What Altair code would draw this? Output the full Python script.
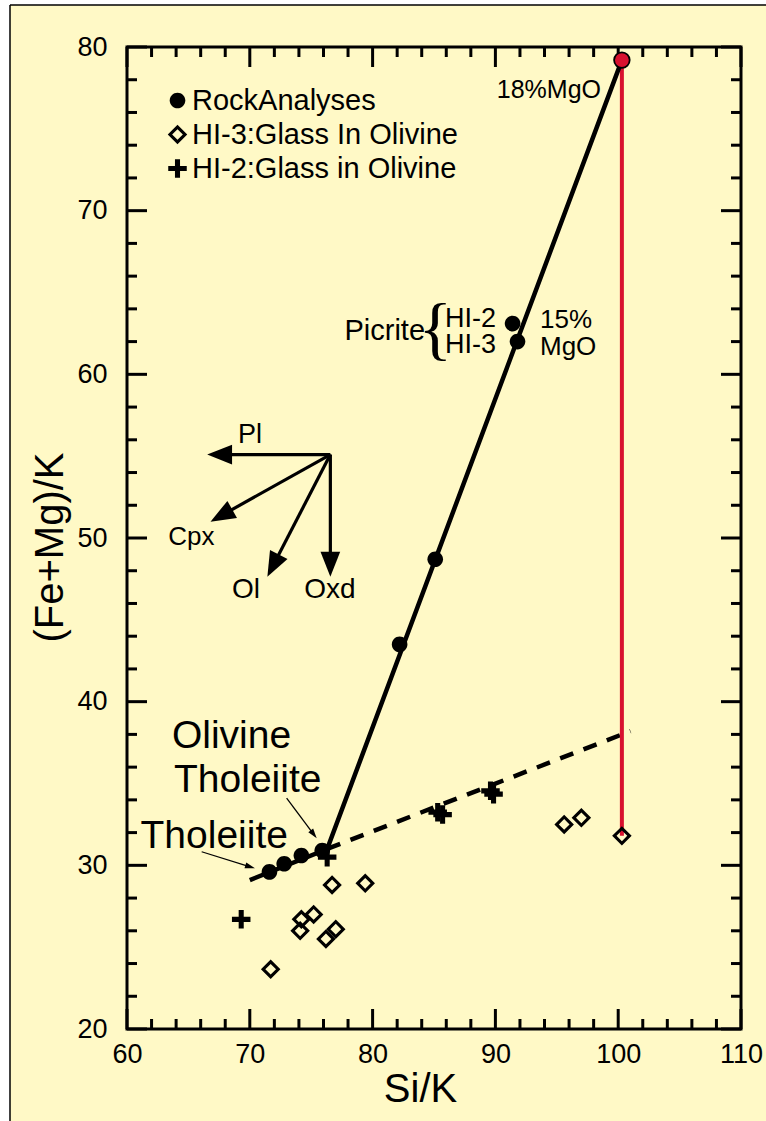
import math
import altair as alt
import pandas as pd

# Si/K against (Fe+Mg)/K for each sample group
rock_si = [71.6, 72.8, 74.2, 75.9, 82.2, 85.1, 91.4, 91.8]
rock_fm = [29.6, 30.1, 30.6, 30.9, 43.5, 48.7, 63.1, 62.0]
mgo18_si = [100.3]
mgo18_fm = [79.2]
hi3_si = [71.7, 74.1, 74.2, 75.2, 76.2, 76.7, 77.0, 79.4, 95.6, 97.0, 100.3]
hi3_fm = [23.65, 26.0, 26.7, 27.0, 25.5, 28.8, 26.1, 28.9, 32.5, 32.9, 31.8]
hi2_si = [69.3, 76.3, 85.3, 85.7, 89.6, 89.85]
hi2_fm = [26.7, 30.5, 33.25, 33.1, 34.55, 34.35]

series_names = ["RockAnalyses", "HI-3:Glass In Olivine", "HI-2:Glass in Olivine"]

# Trend lines
rock_trend_si = [70.0, 76.3, 100.3]
rock_trend_fm = [29.1, 31.0, 79.2]
glass_trend_si = [76.3, 101.0]
glass_trend_fm = [31.0, 38.2]
mgo_link_si = [100.3]
mgo_link_top = [79.2]
mgo_link_bottom = [31.8]

# Mineral-addition vectors
vector_names = ["Pl", "Cpx", "Ol", "Oxd"]
vector_origin_si = 76.56
vector_origin_fm = 55.1
vector_tip_si = [66.53, 66.8, 71.43, 76.56]
vector_tip_fm = [55.1, 51.0, 47.64, 47.64]

# Pointer arrows for the rock-type labels
pointer_from_si = [66.08, 73.0]
pointer_from_fm = [30.83, 34.1]
pointer_to_si = [70.42, 75.45]
pointer_to_fm = [29.82, 31.65]

# Axis ticks
x_major = [60, 70, 80, 90, 100, 110]
x_minor = [v for v in range(62, 110, 2) if v % 10]
y_major = [20, 30, 40, 50, 60, 70, 80]
y_minor = [v for v in range(22, 80, 2) if v % 10]

# ---------------------------------------------------------------- layout
W, H = 614, 982
X_DOM, Y_DOM = [60, 110], [20, 80]
PX_X = W / (X_DOM[1] - X_DOM[0])
PX_Y = H / (Y_DOM[1] - Y_DOM[0])
FONT = "Liberation Sans"
BG = "#FFF9C6"
RED = "#D8112F"

xs = alt.Scale(domain=X_DOM, nice=False, zero=False)
ys = alt.Scale(domain=Y_DOM, nice=False, zero=False)

x_axis = alt.Axis(values=x_major, ticks=False, domain=False, grid=False, labelFlush=False,
                  labelFontSize=27, labelFont=FONT, labelColor="black", labelPadding=12,
                  title="Si/K", titleFont=FONT, titleFontSize=40, titleFontWeight="normal",
                  titleColor="black", titleX=293, titleY=72, titleBaseline="alphabetic",
                  titleAlign="center", zindex=1)
y_axis = alt.Axis(values=y_major, ticks=False, domain=False, grid=False, labelFlush=False,
                  labelFontSize=27, labelFont=FONT, labelColor="black", labelPadding=20,
                  title="(Fe+Mg)/K", titleFont=FONT, titleFontSize=40,
                  titleFontWeight="normal", titleColor="black", titleX=-65, titleY=500,
                  titleBaseline="alphabetic", titleAlign="center", titleAngle=270, zindex=1)

CIRCLE = "M-0.8,0A0.8,0.8 0 1,0 0.8,0A0.8,0.8 0 1,0 -0.8,0Z"
DIAMOND = "M0,-1L1,0L0,1L-1,0ZM0,-0.55L-0.55,0L0,0.55L0.55,0Z"
PLUS = "M-0.95,-0.26H-0.26V-0.95H0.26V-0.26H0.95V0.26H0.26V0.95H-0.26V0.26H-0.95Z"
HEAD = "M0,0L-2.4,-0.95L-2.4,0.95Z"
THIN_HEAD = "M0,0L-2.5,-0.75L-2.5,0.75Z"
PT_SIZE = 380


# shared scales; only the sample layer carries the labelled axes
def X(field, axis=None):
    return alt.X(field, type="quantitative", scale=xs, axis=axis)


def Y(field, axis=None):
    return alt.Y(field, type="quantitative", scale=ys, axis=axis)


one = pd.DataFrame({"k": [0]})

# white page margin on the left and top edges, with the thin page border
margin_left = alt.Chart(one).mark_rect(color="white").encode(
    x=alt.value(-130), x2=alt.value(-117), y=alt.value(-50), y2=alt.value(H + 100))
margin_top = alt.Chart(one).mark_rect(color="white").encode(
    x=alt.value(-130), x2=alt.value(W + 40), y=alt.value(-50), y2=alt.value(-42))
border_left = alt.Chart(one).mark_rule(color="black", strokeWidth=1.5).encode(
    x=alt.value(-117), y=alt.value(-42), y2=alt.value(H + 100))
border_top = alt.Chart(one).mark_rule(color="black", strokeWidth=1.5).encode(
    y=alt.value(-42), x=alt.value(-117), x2=alt.value(W + 40))

frame = alt.Chart(one).mark_rect(fillOpacity=0, stroke="black", strokeWidth=3).encode(
    x=alt.value(0), x2=alt.value(W), y=alt.value(0), y2=alt.value(H)
)


# inward ticks on all four sides of the frame
def tick_layers(values, length):
    d = pd.DataFrame({"v": values})
    rule = alt.Chart(d).mark_rule(color="black", strokeWidth=3)
    return [
        rule.encode(x=X("v"), y=alt.value(H), y2=alt.value(H - length)),
        rule.encode(x=X("v"), y=alt.value(0), y2=alt.value(length)),
    ]


def ytick_layers(values, length):
    d = pd.DataFrame({"v": values})
    rule = alt.Chart(d).mark_rule(color="black", strokeWidth=3)
    return [
        rule.encode(y=Y("v"), x=alt.value(0), x2=alt.value(length)),
        rule.encode(y=Y("v"), x=alt.value(W), x2=alt.value(W - length)),
    ]


ticks = (tick_layers(x_major, 20) + tick_layers(x_minor, 10)
         + ytick_layers(y_major, 20) + ytick_layers(y_minor, 10))

# trend lines
rock_trend = alt.Chart(pd.DataFrame({"si": rock_trend_si, "fm": rock_trend_fm,
                                     "o": range(len(rock_trend_si))})).mark_line(
    color="black", strokeWidth=4.5, strokeJoin="miter").encode(x=X("si"), y=Y("fm"), order="o:Q")

glass_trend = alt.Chart(pd.DataFrame({"si": glass_trend_si, "fm": glass_trend_fm})).mark_line(
    color="black", strokeWidth=4.5, strokeDash=[14, 11]).encode(x=X("si"), y=Y("fm"))

mgo_link = alt.Chart(pd.DataFrame({"si": mgo_link_si, "top": mgo_link_top,
                                   "bot": mgo_link_bottom})).mark_rule(
    color=RED, strokeWidth=4).encode(x=X("si"), y=Y("top"), y2="bot:Q")

# sample points
pts = pd.DataFrame({
    "si": rock_si + hi3_si + hi2_si,
    "fm": rock_fm + hi3_fm + hi2_fm,
    "series": [series_names[0]] * len(rock_si) + [series_names[1]] * len(hi3_si)
    + [series_names[2]] * len(hi2_si),
})

points = alt.Chart(pts).mark_point(filled=True, color="black", size=PT_SIZE, opacity=1,
                                   strokeWidth=0).encode(
    x=X("si", x_axis),
    y=Y("fm", y_axis),
    shape=alt.Shape("series:N", scale=alt.Scale(domain=series_names,
                                                range=[CIRCLE, DIAMOND, PLUS]),
                    legend=alt.Legend(title=None, orient="none", legendX=36, legendY=39,
                                      labelFontSize=29, labelFont=FONT, labelColor="black",
                                      labelLimit=500, symbolSize=PT_SIZE,
                                      symbolFillColor="black", symbolStrokeWidth=0,
                                      rowPadding=4, labelOffset=0, padding=0, zindex=1)),
)

mgo18 = alt.Chart(pd.DataFrame({"si": mgo18_si, "fm": mgo18_fm})).mark_point(
    shape=CIRCLE, size=PT_SIZE, filled=True, fill=RED, stroke="black", strokeWidth=1.8,
    opacity=1).encode(x=X("si"), y=Y("fm"))


# arrows: shaft plus a rotated head whose tip sits at the end point
def arrows(x0, y0, x1, y1, width, head, head_size, head_len):
    rows, heads = [], []
    for a, b, c, d in zip(x0, y0, x1, y1):
        dx, dy = (c - a) * PX_X, -(d - b) * PX_Y
        L = math.hypot(dx, dy)
        ang = math.degrees(math.atan2(dy, dx)) % 360
        f = max(L - head_len, 0) / L
        rows.append({"x": a, "y": b, "x2": a + (c - a) * f, "y2": b + (d - b) * f})
        heads.append({"x": c, "y": d, "ang": ang})
    shaft = alt.Chart(pd.DataFrame(rows)).mark_rule(color="black", strokeWidth=width).encode(
        x=X("x"), y=Y("y"), x2="x2:Q", y2="y2:Q")
    tip = alt.Chart(pd.DataFrame(heads)).mark_point(
        shape=head, size=head_size, filled=True, color="black", opacity=1, strokeWidth=0).encode(
        x=X("x"), y=Y("y"), angle=alt.Angle("ang:Q", scale=None))
    return [shaft, tip]


n = len(vector_names)
vectors = arrows([vector_origin_si] * n, [vector_origin_fm] * n, vector_tip_si, vector_tip_fm,
                 3.2, HEAD, 430, 12)
pointers = arrows(pointer_from_si, pointer_from_fm, pointer_to_si, pointer_to_fm,
                  1.3, THIN_HEAD, 64, 5)

# annotation text: (text, si, fm, size, align, baseline, font)
annotations = [
    ("18%MgO", 98.6, 76.88, 25, "right", "alphabetic", FONT),
    ("Picrite", 84.27, 62.65, 29, "right", "middle", FONT),
    ("{", 85.1, 62.65, 70, "center", "middle", "Liberation Serif"),
    ("HI-2", 85.9, 63.4, 27, "left", "middle", FONT),
    ("HI-3", 85.9, 61.8, 27, "left", "middle", FONT),
    ("15%", 93.63, 63.35, 26, "left", "middle", FONT),
    ("MgO", 93.63, 61.7, 26, "left", "middle", FONT),
    ("Pl", 70.02, 56.29, 27, "center", "middle", FONT),
    ("Cpx", 65.25, 50.06, 26, "center", "middle", FONT),
    ("Ol", 69.69, 46.82, 28, "center", "middle", FONT),
    ("Oxd", 76.53, 46.82, 28, "center", "middle", FONT),
    ("Olivine", 63.66, 37.17, 39, "left", "alphabetic", FONT),
    ("Tholeiite", 63.83, 34.48, 39, "left", "alphabetic", FONT),
    ("Tholeiite", 61.1, 31.06, 39, "left", "alphabetic", FONT),
]

texts = []
for t, x, y, size, align, base, font in annotations:
    texts.append(
        alt.Chart(pd.DataFrame({"x": [x], "y": [y], "t": [t]})).mark_text(
            fontSize=size, align=align, baseline=base, font=font, color="black").encode(
            x=X("x"), y=Y("y"), text="t:N")
    )

chart = alt.layer(
    margin_left, margin_top, border_left, border_top, *ticks, frame, glass_trend, mgo_link,
    rock_trend, points, mgo18, *vectors, *pointers, *texts
).resolve_axis(
    x="independent", y="independent"
).properties(
    width=W, height=H,
    autosize=alt.AutoSizeParams(type="none"),
    padding={"left": 127, "top": 47, "right": 25, "bottom": 92},
    background=BG,
).configure_view(stroke="transparent", strokeWidth=0)

chart.save("out.html", embed_options={"renderer": "svg", "actions": False})
